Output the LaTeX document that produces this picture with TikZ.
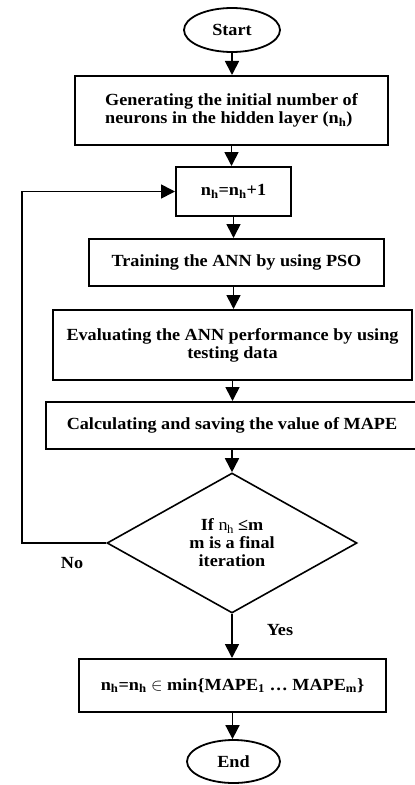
\documentclass[tikz,border=0pt]{standalone}
\usepackage{fontspec}
\setmainfont[FakeStretch=1.07]{Liberation Serif}
\usetikzlibrary{shapes.geometric,arrows.meta}

\begin{document}
\begin{tikzpicture}[x=1bp,y=-1bp,
        font=\fontsize{17bp}{18bp}\selectfont\bfseries,
        terminal/.style={ellipse,draw,line width=1.8bp,inner sep=0pt},
        process/.style={rectangle,draw,line width=2bp,inner sep=0pt,align=center},
        decision/.style={diamond,draw,line width=1.6bp,inner sep=0pt,align=center},
        flow/.style={line width=1.7bp,-{Triangle[length=14bp,width=14bp]}}]
        \useasboundingbox (0,0) rectangle (414,785);

        % main column
        \node[terminal,minimum width=96bp, minimum height=44bp] (start) at (232,  30  ) {Start};
        \node[process, minimum width=313bp,minimum height=69bp] (gen)   at (231.5,110.5)
             [align=left] {Generating the initial number of\\neurons in the hidden layer (n\textsubscript{h})};
        \node[process, minimum width=115bp,minimum height=49bp] (inc)   at (233.5,191.5) {n\textsubscript{h}=n\textsubscript{h}+1};
        \node[process, minimum width=295bp,minimum height=47bp] (train) at (236.5,262.5) {Training the ANN by using PSO};
        \node[process, minimum width=359bp,minimum height=70bp] (eval)  at (232.5,345  )
             {Evaluating the ANN performance by using\\testing data};
        \node[process, minimum width=372bp,minimum height=47bp] (calc)  at (232,  425.5) {Calculating and saving the value of MAPE};
        \node[decision,minimum width=250bp,minimum height=140bp](dec)   at (232,  543  )
             {If $\mathrm{n}_\mathrm{h}$ ≤m\\m is a final\\iteration};
        \node[process, minimum width=307bp,minimum height=53bp] (res)   at (232.5,685.5)
             {n\textsubscript{h}=n\textsubscript{h} $\in$ min\{MAPE\textsubscript{1} \ldots{} MAPE\textsubscript{m}\}};
        \node[terminal,minimum width=93bp, minimum height=43bp] (end)   at (233.5,761.5) {End};

        % arrows down
        \draw[flow] (start.south) -- (start.south |- gen.north);
        \draw[flow] (gen.south)   -- (gen.south   |- inc.north);
        \draw[flow] (inc.south)   -- (inc.south   |- train.north);
        \draw[flow] (inc.south |- train.south) -- (inc.south |- eval.north);
        \draw[flow] (eval.south)  -- (eval.south  |- calc.north);
        \draw[flow] (calc.south)  -- (dec.north);
        \draw[flow] (dec.south)   -- (dec.south   |- res.north);
        \draw[flow] (res.south)   -- (res.south   |- end.north);

        % loop back
        \coordinate (back) at (22,543);
        \draw[flow] (dec.west) -- (back) |- (inc.west);
        \node (no)  at (72, 563) {No};
        \node (yes) at (280,630) {Yes};
\end{tikzpicture}
\end{document}
